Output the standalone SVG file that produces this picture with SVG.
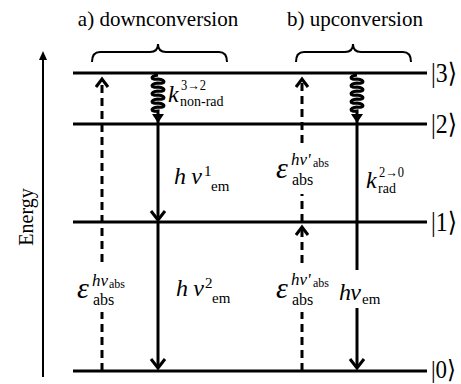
<svg xmlns="http://www.w3.org/2000/svg" width="461" height="384" viewBox="0 0 461 384">
<style>
text{font-family:"Liberation Serif","Times New Roman","DejaVu Serif",serif;fill:#000}
.lvl{stroke:#000;stroke-width:3;fill:none}
.sol{stroke:#000;stroke-width:3;fill:none}
.dash{stroke:#000;stroke-width:3;fill:none;stroke-dasharray:8,5}
.head{stroke:#000;stroke-width:3;fill:none;stroke-linejoin:miter}
.br{stroke:#000;stroke-width:2;fill:none}
.it{font-style:italic}
</style>
<rect width="461" height="384" fill="#fff"/>
<text x="158" y="26" font-size="21" text-anchor="middle">a) downconversion</text>
<text x="355" y="26" font-size="21" text-anchor="middle">b) upconversion</text>
<g id="brackets">
<path class="br" d="M92,62 Q92,52 100,52 L150,52 Q158,52 158,44 Q158,52 166,52 L219,52 Q227,52 227,62"/>
<path class="br" d="M296,62 Q296,52 304,52 L345,52 Q353,52 353,44 Q353,52 361,52 L403,52 Q411,52 411,62"/>
</g>
<g id="energy-axis">
<line x1="43" y1="377" x2="43" y2="58" stroke="#000" stroke-width="2"/>
<polygon points="43,51 39,60 47,60" fill="#000"/>
<text transform="translate(33,217) rotate(-90)" font-size="20" text-anchor="middle">Energy</text>
</g>
<g id="level3"><line class="lvl" x1="73" y1="73" x2="427" y2="73"/><text x="431" y="82" font-size="27" textLength="26" lengthAdjust="spacingAndGlyphs">|3⟩</text></g>
<g id="level2"><line class="lvl" x1="73" y1="124" x2="427" y2="124"/><text x="431" y="133" font-size="27" textLength="26" lengthAdjust="spacingAndGlyphs">|2⟩</text></g>
<g id="level1"><line class="lvl" x1="73" y1="222" x2="427" y2="222"/><text x="431" y="231" font-size="27" textLength="26" lengthAdjust="spacingAndGlyphs">|1⟩</text></g>
<g id="level0"><line class="lvl" x1="73" y1="371" x2="427" y2="371"/><text x="431" y="378" font-size="25" textLength="25" lengthAdjust="spacingAndGlyphs">|0⟩</text></g>
<g id="connectors">
<line class="dash" x1="102" y1="371" x2="102" y2="312"/>
<line class="dash" x1="102" y1="262" x2="102" y2="80"/>
<polyline class="head" points="96,87 102,79 108,87"/>
<path class="sol" stroke-width="2.5" d="M158,75 c-8,1 -8,5 0,4 c8,1 8,5 0,4 c-8,1 -8,5 0,4 c8,1 8,5 0,4 c-8,1 -8,5 0,4 c8,1 8,5 0,4 c-8,1 -8,5 0,4 c8,1 8,5 0,4 c-8,1 -8,5 0,4 L158,124"/>
<polygon points="152,114 164,114 158,123" fill="#000"/>
<line class="sol" x1="158" y1="124" x2="158" y2="219"/>
<polyline class="head" points="151,211 158,220 165,211"/>
<line class="sol" x1="158" y1="222" x2="158" y2="368"/>
<polyline class="head" points="151,359 158,368 165,359"/>
<line class="dash" x1="302" y1="371" x2="302" y2="312"/>
<line class="dash" x1="302" y1="263" x2="302" y2="228"/>
<polyline class="head" points="296,235 302,227 308,235"/>
<line class="dash" x1="302" y1="222" x2="302" y2="194"/>
<line class="dash" x1="302" y1="143" x2="302" y2="80"/>
<polyline class="head" points="296,87 302,79 308,87"/>
<path class="sol" stroke-width="2.5" d="M357,75 c-8,1 -8,5 0,4 c8,1 8,5 0,4 c-8,1 -8,5 0,4 c8,1 8,5 0,4 c-8,1 -8,5 0,4 c8,1 8,5 0,4 c-8,1 -8,5 0,4 c8,1 8,5 0,4 c-8,1 -8,5 0,4 L357,124"/>
<polygon points="351,114 363,114 357,123" fill="#000"/>
<line class="sol" x1="357" y1="124" x2="357" y2="270"/>
<line class="sol" x1="357" y1="308" x2="357" y2="368"/>
<polyline class="head" points="350,359 357,368 364,359"/>
</g>
<g id="labels">
<text x="168" y="102" font-size="24" class="it">k</text>
<text x="181" y="90" font-size="14" textLength="25" lengthAdjust="spacingAndGlyphs">3→2</text>
<text x="180" y="106" font-size="14">non-rad</text>

<text x="174" y="184" font-size="24" class="it" textLength="28" lengthAdjust="spacing">hν</text>
<text x="204" y="176" font-size="15">1</text>
<text x="211" y="191" font-size="15">em</text>

<text x="176" y="296" font-size="24" class="it" textLength="28" lengthAdjust="spacing">hν</text>
<text x="205" y="288" font-size="15">2</text>
<text x="212" y="303" font-size="15">em</text>

<text x="77" y="298" font-size="30" class="it">ε</text>
<text x="92" y="286" font-size="17" class="it">hν</text>
<text x="109" y="288" font-size="12">abs</text>
<text x="93" y="305" font-size="16">abs</text>

<text x="276" y="178" font-size="30" class="it">ε</text>
<text x="291" y="165" font-size="17" class="it">hν'</text>
<text x="313" y="167" font-size="12">abs</text>
<text x="292" y="185" font-size="16">abs</text>

<text x="276" y="298" font-size="30" class="it">ε</text>
<text x="291" y="285" font-size="17" class="it">hν'</text>
<text x="313" y="287" font-size="12">abs</text>
<text x="292" y="305" font-size="16">abs</text>

<text x="366" y="188" font-size="24" class="it">k</text>
<text x="379" y="177" font-size="14" textLength="25" lengthAdjust="spacingAndGlyphs">2→0</text>
<text x="378" y="193" font-size="14">rad</text>

<text x="339" y="300" font-size="24" class="it" textLength="22" lengthAdjust="spacing">hν</text>
<text x="362" y="304" font-size="15">em</text>
</g>
</svg>
